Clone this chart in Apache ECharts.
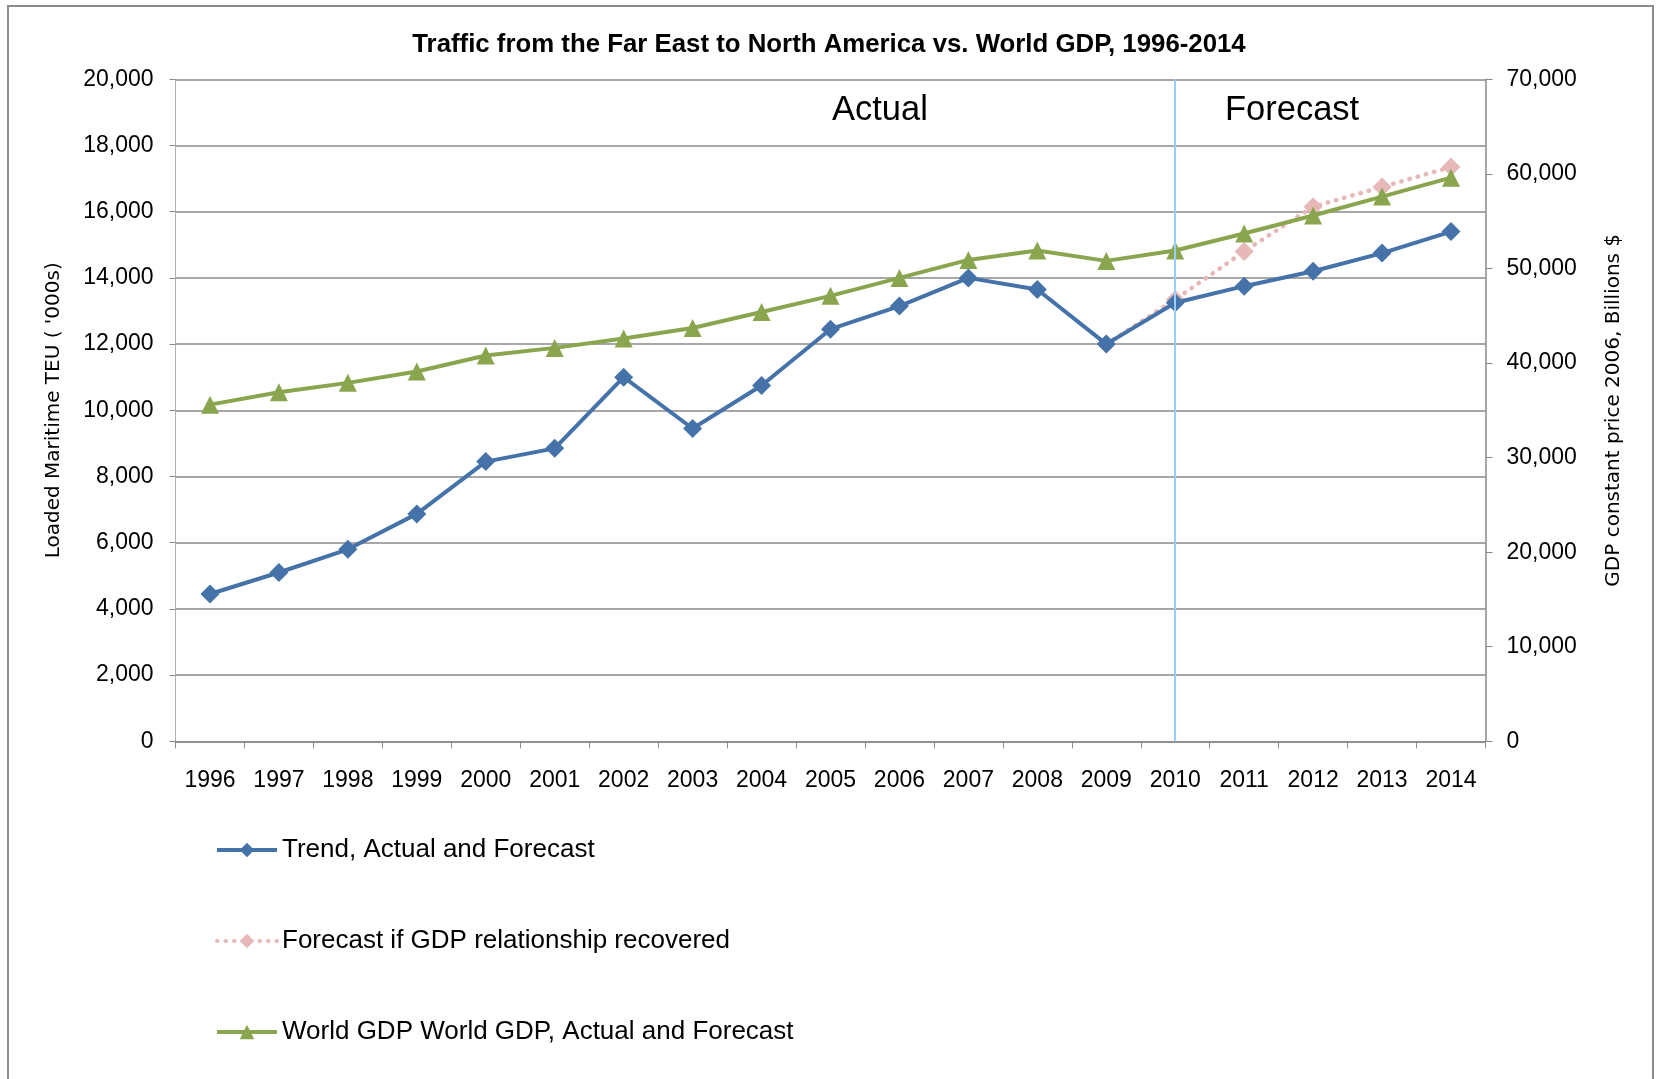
<!DOCTYPE html>
<html>
<head>
<meta charset="utf-8">
<script src="https://cdn.jsdelivr.net/npm/echarts@6/dist/echarts.min.js"></script>
<style>
  html, body { margin: 0; padding: 0; background: #fff; }
  #chart { width: 1658px; height: 1079px; }
</style>
</head>
<body>
<div id="chart"></div>
<script>
// Years on the category axis
var years = ['1996','1997','1998','1999','2000','2001','2002','2003','2004','2005',
             '2006','2007','2008','2009','2010','2011','2012','2013','2014'];

// Loaded maritime TEU ('000s): trend, actual and forecast
var trendTEU = [4450, 5100, 5800, 6870, 8450, 8850, 11000, 9450, 10750, 12450,
                13150, 14000, 13650, 12000, 13250, 13750, 14200, 14750, 15400];

// Alternative forecast if the GDP relationship recovers (starts from 2009)
var gdpRecoveryTEU = [null, null, null, null, null, null, null, null, null, null,
                      null, null, null, 12000, 13350, 14800, 16150, 16750, 17350];

// World GDP, constant 2006 prices, billions $
var worldGDP = [35600, 36900, 37900, 39100, 40800, 41600, 42600, 43700, 45400, 47100,
                49000, 50900, 51900, 50800, 51900, 53700, 55600, 57600, 59600];

var forecastStartYear = '2010';

var narrowFont = '"Liberation Sans Narrow", "Liberation Sans", Arial, sans-serif';
var wideFont = '"DejaVu Sans", Verdana, sans-serif';
var gridColor = '#8a8a8a';

function fmt(v) { return echarts.format.addCommas(v); }

var chart = echarts.init(document.getElementById('chart'), null, { renderer: 'canvas' });

chart.setOption({
  backgroundColor: '#ffffff',
  animation: false,
  title: {
    text: 'Traffic from the Far East to North America vs. World GDP, 1996-2014',
    left: 'center',
    top: 27,
    textStyle: { fontFamily: narrowFont, fontWeight: 'bold', fontSize: 25.8, color: '#000' }
  },
  graphic: [
    {
      type: 'rect', silent: true, z: -1,
      shape: { x: 8, y: 6, width: 1645, height: 1100 },
      style: { fill: 'none', stroke: '#8c8c8c', lineWidth: 2 }
    },
    {
      type: 'text', left: 832, top: 93,
      style: { text: 'Actual', font: '34.5px "Liberation Sans", Arial, sans-serif', fill: '#000' }
    },
    {
      type: 'text', left: 1225, top: 93,
      style: { text: 'Forecast', font: '34.5px "Liberation Sans", Arial, sans-serif', fill: '#000' }
    }
  ],
  legend: {
    orient: 'vertical',
    left: 210,
    top: 832,
    itemWidth: 60,
    itemHeight: 18,
    itemGap: 65,
    lineStyle: { width: 4 },
    textStyle: { fontFamily: narrowFont, fontSize: 26, color: '#000' },
    data: ['Trend, Actual and Forecast', 'Forecast if GDP relationship recovered',
           'World GDP World GDP, Actual and Forecast']
  },
  grid: { left: 175.5, right: 172.5, top: 79.3, bottom: 337.7, containLabel: false },
  xAxis: {
    type: 'category',
    data: years,
    boundaryGap: true,
    axisLine: { lineStyle: { color: gridColor, width: 1.5 } },
    axisTick: { show: true, inside: false, length: 7, interval: 0, lineStyle: { color: gridColor } },
    axisLabel: { interval: 0, margin: 28, fontFamily: narrowFont, fontSize: 23, color: '#000' },
    splitLine: { show: false }
  },
  yAxis: [
    {
      type: 'value',
      min: 0, max: 20000, interval: 2000,
      name: "Loaded Maritime TEU ( '000s)",
      nameLocation: 'middle',
      nameGap: 112,
      nameRotate: 90,
      nameTextStyle: { fontFamily: wideFont, fontSize: 20, color: '#000' },
      axisLine: { show: true, lineStyle: { color: '#b0b0b0', width: 1 } },
      axisTick: { show: true, inside: false, length: 6, lineStyle: { color: gridColor } },
      axisLabel: { margin: 22, formatter: fmt, fontFamily: narrowFont, fontSize: 23, color: '#000' },
      splitLine: { show: true, lineStyle: { color: gridColor, width: 1.5 } }
    },
    {
      type: 'value',
      position: 'right',
      min: 0, max: 70000, interval: 10000,
      alignTicks: false,
      name: 'GDP constant price 2006, Billions $',
      nameLocation: 'middle',
      nameGap: 118,
      nameRotate: 90,
      nameTextStyle: { fontFamily: wideFont, fontSize: 20, color: '#000' },
      axisLine: { show: true, lineStyle: { color: gridColor, width: 1.5 } },
      axisTick: { show: true, inside: false, length: 7, lineStyle: { color: gridColor } },
      axisLabel: { margin: 21, formatter: fmt, fontFamily: narrowFont, fontSize: 23, color: '#000' },
      splitLine: { show: false }
    }
  ],
  series: [
    {
      name: 'Trend, Actual and Forecast',
      type: 'line',
      yAxisIndex: 0,
      data: trendTEU,
      symbol: 'diamond',
      symbolSize: 19,
      z: 4,
      itemStyle: { color: '#4572a8' },
      lineStyle: { color: '#4572a8', width: 4 },
      markLine: {
        silent: true,
        symbol: 'none',
        label: { show: false },
        lineStyle: { color: '#99ccff', type: 'solid', width: 2 },
        data: [{ xAxis: forecastStartYear }]
      }
    },
    {
      name: 'Forecast if GDP relationship recovered',
      type: 'line',
      yAxisIndex: 0,
      data: gdpRecoveryTEU,
      symbol: 'diamond',
      symbolSize: 19,
      z: 2,
      itemStyle: { color: '#e6b9b8' },
      lineStyle: { color: '#e6b9b8', width: 4.5, type: [0.5, 8], cap: 'round' }
    },
    {
      name: 'World GDP World GDP, Actual and Forecast',
      type: 'line',
      yAxisIndex: 1,
      data: worldGDP,
      symbol: 'triangle',
      symbolSize: 18,
      z: 3,
      itemStyle: { color: '#89a54e' },
      lineStyle: { color: '#89a54e', width: 4 }
    }
  ]
});
</script>
</body>
</html>
